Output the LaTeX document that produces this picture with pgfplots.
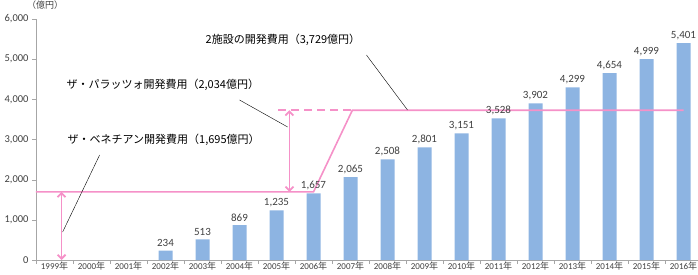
\documentclass[border=0pt]{standalone}
\usepackage{fontspec}
\setmainfont{Carlito}
\newfontfamily\cjk{Noto Sans CJK JP}
\usepackage{pgfplots}
\usetikzlibrary{arrows.meta}
\pgfplotsset{compat=1.18}
\definecolor{barblue}{RGB}{141,180,226}
\definecolor{pinkline}{RGB}{245,145,200}
\definecolor{txt}{RGB}{64,64,64}
\begin{document}
\begin{tikzpicture}[x=1pt,y=1pt]
\begin{axis}[
  at={(0,0)}, anchor=south west,
  scale only axis, width=666pt, height=241pt,
  xmin=-0.5, xmax=17.5, ymin=0, ymax=6000,
  axis x line*=bottom, axis y line*=left,
  axis line style={gray!70},
  /pgf/number format/assume math mode=true,
  /pgf/number format/1000 sep={,},
  ytick={0,1000,...,6000},
  yticklabel style={font=\fontsize{10.5}{11}\selectfont, text=txt},
  xtick={0,...,17},
  xticklabels={1999{\cjk 年},2000{\cjk 年},2001{\cjk 年},2002{\cjk 年},2003{\cjk 年},2004{\cjk 年},2005{\cjk 年},2006{\cjk 年},2007{\cjk 年},2008{\cjk 年},2009{\cjk 年},2010{\cjk 年},2011{\cjk 年},2012{\cjk 年},2013{\cjk 年},2014{\cjk 年},2015{\cjk 年},2016{\cjk 年}},
  xticklabel style={font=\fontsize{9}{9}\selectfont, text=txt, inner sep=0pt, yshift=2pt},
  minor xtick={-0.5,0.5,...,17.5},
  major x tick style={draw=none},
  minor x tick style={gray!70},
  y tick style={gray!70},
  tick align=outside,
  major tick length=4pt, minor tick length=4pt,
  clip=false,
]
\addplot[ybar, bar width=14pt, fill=barblue, draw=none,
  nodes near coords,
  nodes near coords style={font=\fontsize{11}{12}\selectfont, text=txt, /pgf/number format/1000 sep={,}}]
  coordinates {(3,234) (4,513) (5,869) (6,1235) (7,1657) (8,2065) (9,2508) (10,2801)
  (11,3151) (12,3528) (13,3902) (14,4299) (15,4654) (16,4999) (17,5401)};
% cost levels
\addplot[pinkline, line width=1.6pt, sharp plot, mark=none]
  coordinates {(-0.5,1695) (7,1695) (8.05,3729) (17,3729)};
\addplot[pinkline, line width=1.6pt, dash pattern=on 8pt off 5pt, sharp plot, mark=none]
  coordinates {(6.05,3729) (8.05,3729)};
\addplot[pinkline, line width=1.8pt, {Straight Barb[length=4pt,width=8pt]}-{Straight Barb[length=4pt,width=8pt]}, sharp plot, mark=none]
  coordinates {(0.19,0) (0.19,1695)};
\addplot[pinkline, line width=1.8pt, {Straight Barb[length=4pt,width=8pt]}-{Straight Barb[length=4pt,width=8pt]}, sharp plot, mark=none]
  coordinates {(6.35,1695) (6.35,3729)};
% annotations
\draw[black, thin] (axis cs:1.22,2615) -- (axis cs:0.22,697);
\draw[black, thin] (axis cs:5.0,3984) -- (axis cs:6.3,3312);
\draw[black, thin] (axis cs:8.43,5105) -- (axis cs:9.54,3735);
\node[anchor=west, inner sep=0pt, font=\cjk\fontsize{11}{12}\selectfont] at (axis cs:0.35,2988) {ザ・ベネチアン開発費用（1,695億円）};
\node[anchor=west, inner sep=0pt, font=\cjk\fontsize{11}{12}\selectfont] at (axis cs:0.32,4358) {ザ・パラッツォ開発費用（2,034億円）};
\node[anchor=west, inner sep=0pt, font=\cjk\fontsize{11}{12}\selectfont] at (axis cs:4.08,5478) {2施設の開発費用（3,729億円）};
\end{axis}
\node[anchor=north, inner sep=0pt, font=\cjk\fontsize{9}{9}\selectfont, text=txt] at (9,259.5) {（億円）};
\pgfresetboundingbox
\path (-36,-14) rectangle (662,260);
\end{tikzpicture}
\end{document}
